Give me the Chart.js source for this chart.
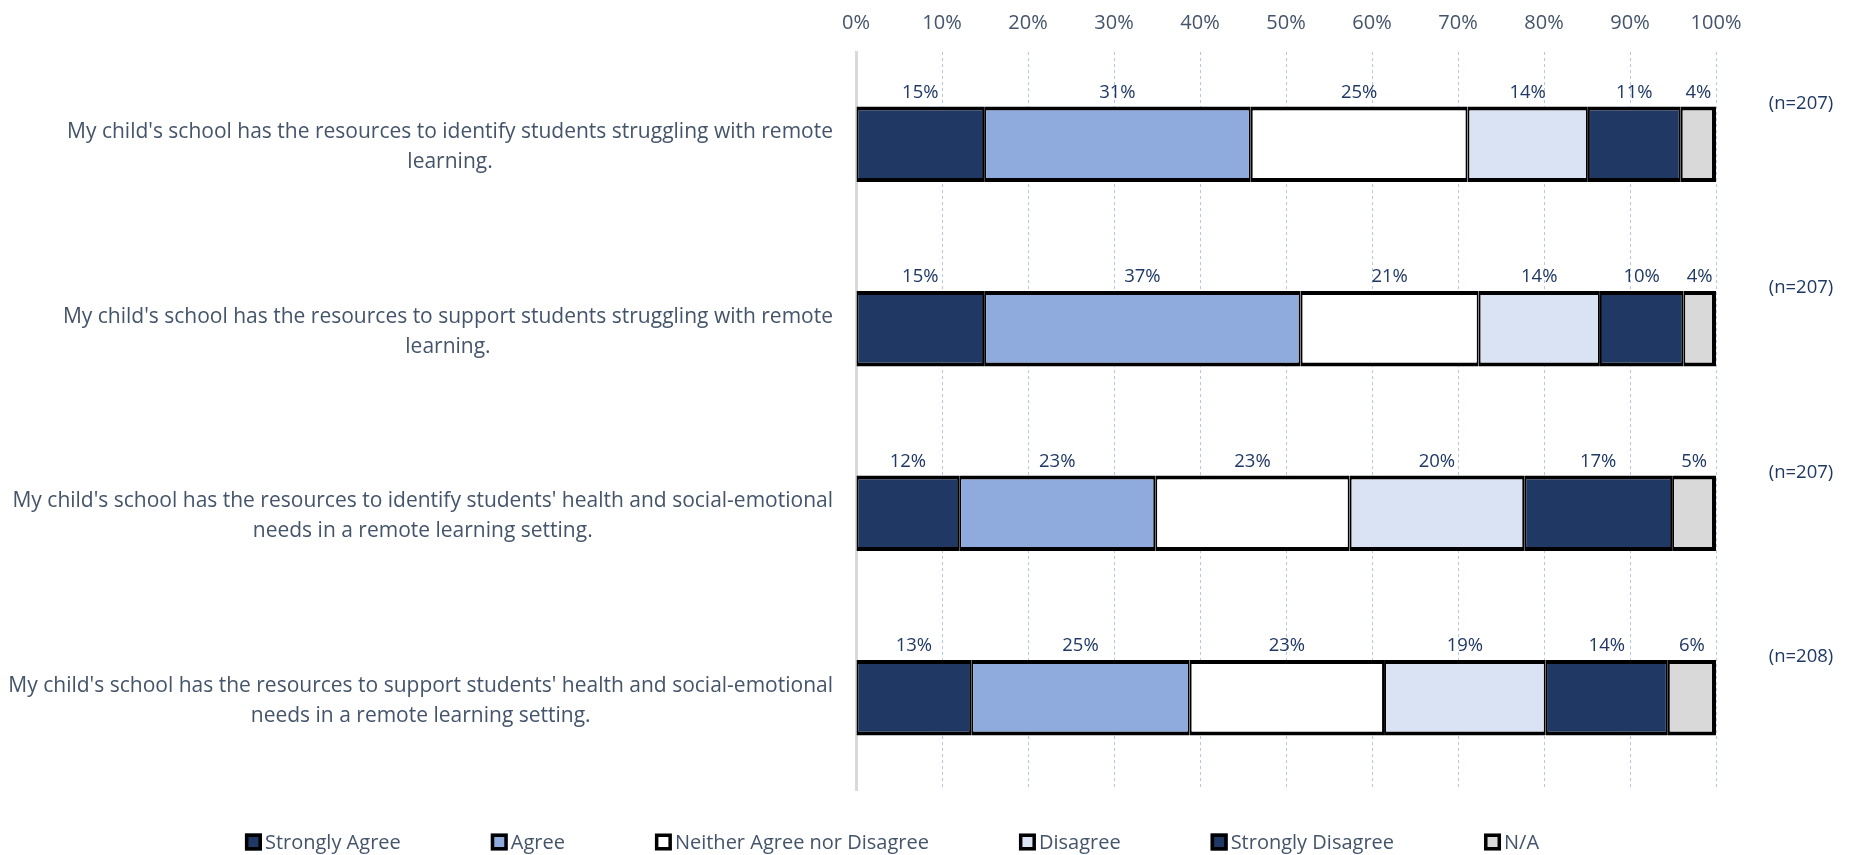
<!DOCTYPE html>
<html>
<head>
<meta charset="utf-8">
<script src="https://cdn.jsdelivr.net/npm/chart.js@4"></script>
<style>
  html, body { margin: 0; padding: 0; background: #fff; }
  #wrap { width: 1858px; height: 855px; position: relative; }
</style>
</head>
<body>
<div id="wrap"><canvas id="myChart"></canvas></div>
<script>
// statements (each one split in two lines, as in the picture)
var questions = [
  ["My child's school has the resources to identify students struggling with remote", "learning."],
  ["My child's school has the resources to support students struggling with remote", "learning."],
  ["My child's school has the resources to identify students' health and social-emotional", "needs in a remote learning setting."],
  ["My child's school has the resources to support students' health and social-emotional", "needs in a remote learning setting."]
];
var sampleSizes = ["(n=207)", "(n=207)", "(n=207)", "(n=208)"];

// percent per answer
var stronglyAgree    = [14.9, 14.9, 12.0, 13.4];
var agree            = [31.0, 36.8, 22.8, 25.4];
var neither          = [25.2, 20.7, 22.6, 22.6];
var disagree         = [14.0, 14.1, 20.3, 18.8];
var stronglyDisagree = [10.8,  9.7, 17.2, 14.2];
var notApplicable    = [ 4.1,  3.8,  5.1,  5.6];

var xTicks = [0, 10, 20, 30, 40, 50, 60, 70, 80, 90, 100];

var FONT = "'Open Sans', sans-serif";
var TEXT = '#44546A';
var NAVY_TEXT = '#1F3864';

function ds(label, values, color, last) {
  return {
    label: label,
    data: values,
    backgroundColor: color,
    borderColor: '#000000',
    borderWidth: { top: 4, bottom: 4, left: 2, right: last ? 4 : 2 },
    borderSkipped: false,
    barPercentage: 0.41,
    categoryPercentage: 1.0
  };
}

var data = {
  labels: questions,
  datasets: [
    ds('Strongly Agree', stronglyAgree, '#203864'),
    ds('Agree', agree, '#8FAADC'),
    ds('Neither Agree nor Disagree', neither, '#FFFFFF'),
    ds('Disagree', disagree, '#DAE3F3'),
    ds('Strongly Disagree', stronglyDisagree, '#203864'),
    ds('N/A', notApplicable, '#D9D9D9', true)
  ]
};

// question text, right-aligned block with centred lines
var questionLabels = {
  id: 'questionLabels',
  afterDraw: function(chart) {
    var ctx = chart.ctx, ys = chart.scales.y, area = chart.chartArea;
    ctx.save();
    ctx.font = '21px ' + FONT;
    ctx.fillStyle = TEXT;
    ctx.textAlign = 'center';
    ctx.textBaseline = 'middle';
    questions.forEach(function(lines, i) {
      var w = 0;
      lines.forEach(function(l) { w = Math.max(w, ctx.measureText(l).width); });
      var cx = area.left - 23 - w / 2;
      var cy = ys.getPixelForValue(i) + 3;
      lines.forEach(function(l, j) {
        ctx.fillText(l, cx, cy + (j - (lines.length - 1) / 2) * 30);
      });
    });
    ctx.restore();
  }
};

// value labels above segments + (n=...) on the right
var valueLabels = {
  id: 'valueLabels',
  afterDatasetsDraw: function(chart) {
    var ctx = chart.ctx, area = chart.chartArea;
    ctx.save();
    ctx.font = '18.5px ' + FONT;
    ctx.fillStyle = NAVY_TEXT;
    ctx.textAlign = 'center';
    ctx.textBaseline = 'middle';
    chart.data.datasets.forEach(function(d, di) {
      var meta = chart.getDatasetMeta(di);
      meta.data.forEach(function(bar, i) {
        var top = bar.y - bar.height / 2;
        ctx.fillText(Math.round(d.data[i]) + '%', (bar.x + bar.base) / 2, top - 14);
      });
    });
    var meta0 = chart.getDatasetMeta(0);
    meta0.data.forEach(function(bar, i) {
      ctx.fillText(sampleSizes[i], area.right + 85, bar.y - bar.height / 2 - 3);
    });
    ctx.restore();
  }
};

// legend row at the bottom
var bottomLegend = {
  id: 'bottomLegend',
  afterDraw: function(chart) {
    var ctx = chart.ctx;
    var box = 17, gapText = 3, gap = 90, y = 842;
    ctx.save();
    ctx.font = '20px ' + FONT;
    var items = chart.data.datasets.map(function(d) {
      return { text: d.label, color: d.backgroundColor, w: box + gapText + ctx.measureText(d.label).width };
    });
    var total = items.reduce(function(s, it) { return s + it.w; }, 0) + gap * (items.length - 1);
    var x = 892 - total / 2;
    ctx.textBaseline = 'middle';
    ctx.textAlign = 'left';
    items.forEach(function(it) {
      ctx.fillStyle = it.color;
      ctx.fillRect(x, y - box / 2, box, box);
      ctx.lineWidth = 3.5;
      ctx.strokeStyle = '#000';
      ctx.strokeRect(x + 1.75, y - box / 2 + 1.75, box - 3.5, box - 3.5);
      ctx.fillStyle = TEXT;
      ctx.fillText(it.text, x + box + gapText, y + 1);
      x += it.w + gap;
    });
    ctx.restore();
  }
};

var context = document.getElementById('myChart');
var chart = new Chart(context, {
  type: 'bar',
  data: data,
  options: {
    indexAxis: 'y',
    responsive: true,
    maintainAspectRatio: false,
    animation: false,
    layout: { padding: { left: 856, right: 142, top: 0, bottom: 65 } },
    plugins: {
      legend: { display: false },
      tooltip: { enabled: false }
    },
    scales: {
      x: {
        position: 'top',
        stacked: true,
        min: 0,
        max: 100,
        afterBuildTicks: function(s) {
          s.ticks = xTicks.map(function(v) { return { value: v }; });
        },
        afterFit: function(s) { s.height = 52; },
        ticks: {
          color: TEXT,
          font: { family: FONT, size: 20 },
          padding: 17,
          callback: function(v) { return v + '%'; }
        },
        grid: {
          color: '#B4C7E7',
          lineWidth: 1,
          drawTicks: false
        },
        border: { display: false, dash: [3, 3] }
      },
      y: {
        stacked: true,
        ticks: { display: false },
        afterFit: function(s) { s.width = 0; },
        grid: { display: false },
        border: { display: true, color: '#D9D9D9', width: 3 }
      }
    }
  },
  plugins: [questionLabels, valueLabels, bottomLegend]
});
</script>
</body>
</html>
